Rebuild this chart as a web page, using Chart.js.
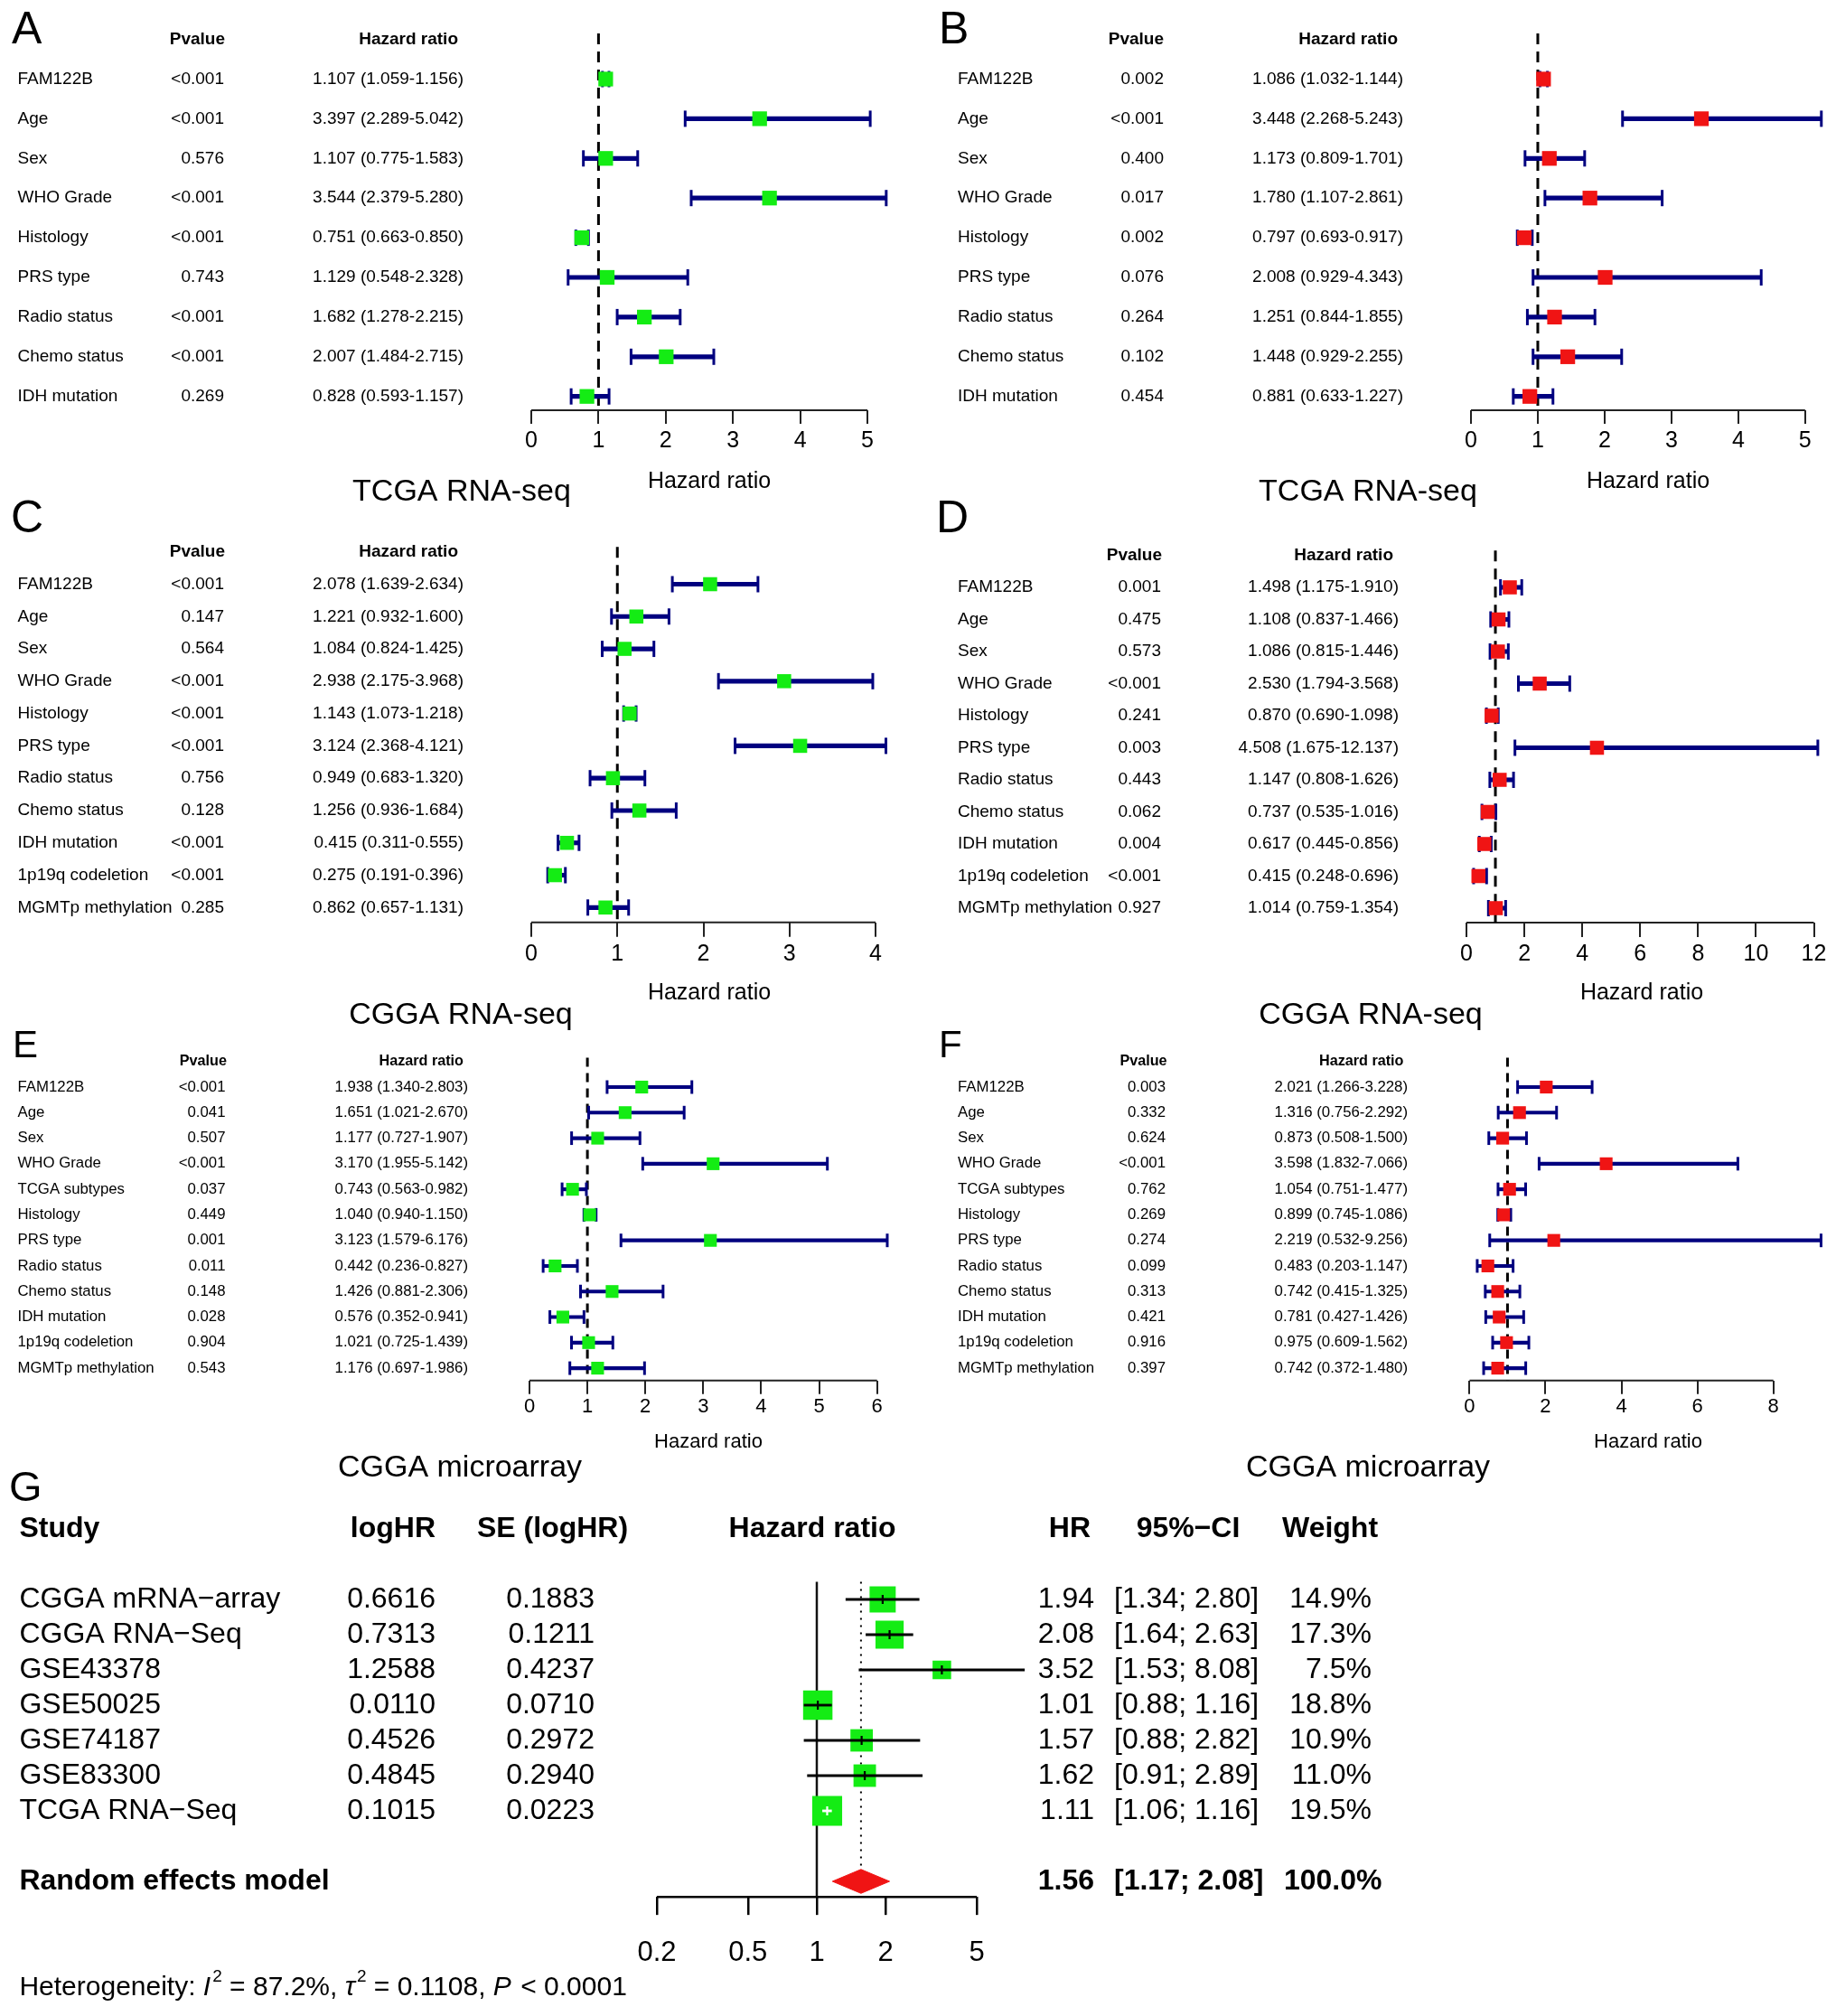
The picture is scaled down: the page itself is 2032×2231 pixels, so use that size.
<!DOCTYPE html>
<html><head><meta charset="utf-8">
<script src="https://cdn.jsdelivr.net/npm/chart.js@4.4.1/dist/chart.umd.min.js"></script>
<style>
html,body{margin:0;padding:0;background:#fff;}
#page{position:relative;width:2032px;height:2231px;background:#fff;overflow:hidden;}
#page canvas{position:absolute;}
</style></head>
<body><div id="page"></div>
<script>
// ---------------- DATA ----------------
const aNames = ['FAM122B','Age','Sex','WHO Grade','Histology','PRS type','Radio status','Chemo status','IDH mutation'];
const aP  = ['<0.001','<0.001','0.576','<0.001','<0.001','0.743','<0.001','<0.001','0.269'];
const aHR = [1.107,3.397,1.107,3.544,0.751,1.129,1.682,2.007,0.828];
const aLo = [1.059,2.289,0.775,2.379,0.663,0.548,1.278,1.484,0.593];
const aHi = [1.156,5.042,1.583,5.280,0.850,2.328,2.215,2.715,1.157];
const aTicks = [0,1,2,3,4,5];

const bNames = ['FAM122B','Age','Sex','WHO Grade','Histology','PRS type','Radio status','Chemo status','IDH mutation'];
const bP  = ['0.002','<0.001','0.400','0.017','0.002','0.076','0.264','0.102','0.454'];
const bHR = [1.086,3.448,1.173,1.780,0.797,2.008,1.251,1.448,0.881];
const bLo = [1.032,2.268,0.809,1.107,0.693,0.929,0.844,0.929,0.633];
const bHi = [1.144,5.243,1.701,2.861,0.917,4.343,1.855,2.255,1.227];
const bTicks = [0,1,2,3,4,5];

const cNames = ['FAM122B','Age','Sex','WHO Grade','Histology','PRS type','Radio status','Chemo status','IDH mutation','1p19q codeletion','MGMTp methylation'];
const cP  = ['<0.001','0.147','0.564','<0.001','<0.001','<0.001','0.756','0.128','<0.001','<0.001','0.285'];
const cHR = [2.078,1.221,1.084,2.938,1.143,3.124,0.949,1.256,0.415,0.275,0.862];
const cLo = [1.639,0.932,0.824,2.175,1.073,2.368,0.683,0.936,0.311,0.191,0.657];
const cHi = [2.634,1.600,1.425,3.968,1.218,4.121,1.320,1.684,0.555,0.396,1.131];
const cTicks = [0,1,2,3,4];

const dNames = ['FAM122B','Age','Sex','WHO Grade','Histology','PRS type','Radio status','Chemo status','IDH mutation','1p19q codeletion','MGMTp methylation'];
const dP  = ['0.001','0.475','0.573','<0.001','0.241','0.003','0.443','0.062','0.004','<0.001','0.927'];
const dHR = [1.498,1.108,1.086,2.530,0.870,4.508,1.147,0.737,0.617,0.415,1.014];
const dLo = [1.175,0.837,0.815,1.794,0.690,1.675,0.808,0.535,0.445,0.248,0.759];
const dHi = [1.910,1.466,1.446,3.568,1.098,12.137,1.626,1.016,0.856,0.696,1.354];
const dTicks = [0,2,4,6,8,10,12];

const eNames = ['FAM122B','Age','Sex','WHO Grade','TCGA subtypes','Histology','PRS type','Radio status','Chemo status','IDH mutation','1p19q codeletion','MGMTp methylation'];
const eP  = ['<0.001','0.041','0.507','<0.001','0.037','0.449','0.001','0.011','0.148','0.028','0.904','0.543'];
const eHR = [1.938,1.651,1.177,3.170,0.743,1.040,3.123,0.442,1.426,0.576,1.021,1.176];
const eLo = [1.340,1.021,0.727,1.955,0.563,0.940,1.579,0.236,0.881,0.352,0.725,0.697];
const eHi = [2.803,2.670,1.907,5.142,0.982,1.150,6.176,0.827,2.306,0.941,1.439,1.986];
const eTicks = [0,1,2,3,4,5,6];

const fNames = ['FAM122B','Age','Sex','WHO Grade','TCGA subtypes','Histology','PRS type','Radio status','Chemo status','IDH mutation','1p19q codeletion','MGMTp methylation'];
const fP  = ['0.003','0.332','0.624','<0.001','0.762','0.269','0.274','0.099','0.313','0.421','0.916','0.397'];
const fHR = [2.021,1.316,0.873,3.598,1.054,0.899,2.219,0.483,0.742,0.781,0.975,0.742];
const fLo = [1.266,0.756,0.508,1.832,0.751,0.745,0.532,0.203,0.415,0.427,0.609,0.372];
const fHi = [3.228,2.292,1.500,7.066,1.477,1.086,9.256,1.147,1.325,1.426,1.562,1.480];
const fTicks = [0,2,4,6,8];

const gStudies = ['CGGA mRNA\u2212array','CGGA RNA\u2212Seq','GSE43378','GSE50025','GSE74187','GSE83300','TCGA RNA\u2212Seq'];
const gLogHR  = ['0.6616','0.7313','1.2588','0.0110','0.4526','0.4845','0.1015'];
const gSE     = ['0.1883','0.1211','0.4237','0.0710','0.2972','0.2940','0.0223'];
const gHR     = [1.94,2.08,3.52,1.01,1.57,1.62,1.11];
const gLo     = [1.34,1.64,1.53,0.88,0.88,0.91,1.06];
const gHi     = [2.80,2.63,8.08,1.16,2.82,2.89,1.16];
const gWeight = [14.9,17.3,7.5,18.8,10.9,11.0,19.5];
const gTicks  = [0.2,0.5,1,2,5];
const reHR = 1.56, reLo = 1.17, reHi = 2.08, reWeight = 100.0;
const hetI2 = '87.2%', hetTau2 = '0.1108', hetP = '< 0.0001';

// ---------------- STYLE ----------------
const FONT = 'Arial, "Liberation Sans", Helvetica, sans-serif';
const NAVY = '#00007f';
const GREEN = '#14ec14';
const RED = '#f01414';
const gCIColor = ['#000','#000','#000','#000','#000','#000','#fff'];
Chart.defaults.font.family = FONT;
Chart.defaults.color = '#000';

function setFont(ctx, size, style) { ctx.font = (style ? style + ' ' : '') + size + 'px ' + FONT; }
const f3 = v => v.toFixed(3);
const f2 = v => v.toFixed(2);

function addCanvas(ox, oy, w, h) {
  const c = document.createElement('canvas');
  c.width = w; c.height = h;
  c.style.left = ox + 'px'; c.style.top = oy + 'px';
  c.style.width = w + 'px'; c.style.height = h + 'px';
  document.getElementById('page').appendChild(c);
  return c;
}

// ---------------- FOREST PANELS A-F ----------------
function forest(P) {
  const c = addCanvas(P.ox, P.oy, P.w, P.h);
  const YMIN = -1.15;
  const top = P.r0 + YMIN * P.dr, bottom = P.r0 + P.ymax * P.dr;
  const t0 = P.ticks[0], tN = P.ticks[P.ticks.length - 1];
  const unit = (P.xN - P.x0) / (tN - t0);
  const right = P.x0 + (P.xmax - t0) * unit;
  const XH = 70;
  const L = x => x - P.ox, T = y => y - P.oy;
  new Chart(c, {
    type: 'scatter',
    data: { datasets: [
      { type: 'line', data: [{x: t0, y: P.ymax}, {x: tN, y: P.ymax}], borderColor: '#222', borderWidth: 2, pointRadius: 0, clip: false, order: 6 },
      { type: 'line', data: [{x: 1, y: YMIN}, {x: 1, y: P.ymax}], borderColor: '#000', borderWidth: 3, borderDash: P.dash, pointRadius: 0, clip: false, order: 5 },
      { type: 'bar', indexAxis: 'y', data: P.lo.map((l, i) => ({y: i, x: [l, P.hi[i]]})), backgroundColor: NAVY, borderWidth: 0, barThickness: P.lw, clip: false, order: 4 },
      { type: 'scatter', data: P.lo.map((l, i) => ({x: l, y: i})).concat(P.hi.map((h, i) => ({x: h, y: i}))),
        pointStyle: 'line', pointRotation: 90, pointRadius: P.cap, pointBorderColor: NAVY, pointBorderWidth: P.capw, clip: false, order: 3 },
      { type: 'scatter', data: P.hr.map((v, i) => ({x: v, y: i})), pointStyle: 'rect', pointRadius: P.mk,
        pointBackgroundColor: P.color, pointBorderColor: P.color, pointBorderWidth: 0, clip: false, order: 2 }
    ]},
    options: {
      responsive: false, animation: false, events: [],
      layout: { padding: { left: P.x0 - P.ox, right: P.ox + P.w - right, top: top - P.oy, bottom: P.oy + P.h - bottom - XH } },
      plugins: { legend: { display: false }, tooltip: { enabled: false } },
      scales: {
        x: { type: 'linear', min: t0, max: P.xmax, offset: false, beginAtZero: false,
          afterBuildTicks: s => { s.ticks = P.ticks.map(v => ({value: v})); },
          afterFit: s => { s.height = XH; },
          grid: { display: true, offset: false, drawOnChartArea: false, drawTicks: true, tickLength: P.tl, color: '#222', lineWidth: 2 },
          border: { display: false },
          ticks: { font: { family: FONT, size: P.tick }, color: '#000', padding: P.tpad, maxRotation: 0, autoSkip: false, callback: v => String(v) } },
        y: { type: 'linear', display: false, offset: false, grid: { offset: false }, min: YMIN, max: P.ymax, reverse: true }
      }
    },
    plugins: [{ id: 'txt' + P.letter, afterDraw(chart) {
      const ctx = chart.ctx, ys = chart.scales.y;
      ctx.save();
      ctx.fillStyle = '#000';
      ctx.textBaseline = 'middle';
      setFont(ctx, P.hs, 'bold');
      ctx.textAlign = 'right';
      const hy = ys.getPixelForValue(-1);
      ctx.fillText('Pvalue', L(P.pHX), hy);
      ctx.fillText('Hazard ratio', L(P.hrHX), hy);
      setFont(ctx, P.fs);
      P.names.forEach((nm, i) => {
        const y = ys.getPixelForValue(i);
        ctx.textAlign = 'left'; ctx.fillText(nm, L(P.nameX), y);
        ctx.textAlign = 'right'; ctx.fillText(P.p[i], L(P.pX), y);
        ctx.fillText(f3(P.hr[i]) + ' (' + f3(P.lo[i]) + '-' + f3(P.hi[i]) + ')', L(P.hrX), y);
      });
      ctx.textBaseline = 'alphabetic';
      ctx.textAlign = 'center';
      setFont(ctx, P.xs); ctx.fillText('Hazard ratio', L(P.xlx), T(P.xly));
      setFont(ctx, 34); ctx.fillText(P.title, L(P.tx), T(P.ty));
      ctx.textAlign = 'left';
      setFont(ctx, P.ls); ctx.fillText(P.letter, L(P.lx), T(P.ly));
      ctx.restore();
    }}]
  });
}

const bigA = { w: 1016, h: 575, r0: 87.5, dr: 43.9, ymax: 8.35, fs: 19, hs: 19, tick: 25, tl: 15, tpad: 4, xs: 25, ls: 50,
  mk: 11.5, cap: 9, capw: 3, lw: 4.5, dash: [12, 8], title: 'TCGA RNA-seq', ty: 554, xly: 540, ly: 48 };
forest(Object.assign({}, bigA, { ox: 0, oy: 0, names: aNames, p: aP, hr: aHR, lo: aLo, hi: aHi, ticks: aTicks, color: GREEN,
  x0: 588, xN: 960, xmax: 5.4, nameX: 19.5, pX: 248, hrX: 513, pHX: 249, hrHX: 507, xlx: 785, tx: 511, letter: 'A', lx: 13 }));
forest(Object.assign({}, bigA, { ox: 1016, oy: 0, names: bNames, p: bP, hr: bHR, lo: bLo, hi: bHi, ticks: bTicks, color: RED,
  x0: 1628, xN: 2004, xmax: 5.3, nameX: 1060, pX: 1288, hrX: 1553, pHX: 1288, hrHX: 1547, xlx: 1824, tx: 1514, letter: 'B', lx: 1039 }));

const bigC = { w: 1016, h: 600, fs: 19, hs: 19, tick: 25, tl: 16, tpad: 4, xs: 25, ls: 50,
  mk: 11, cap: 9, capw: 3, lw: 4.5, dash: [12, 8], title: 'CGGA RNA-seq', ty: 1133, xly: 1106, ly: 589 };
forest(Object.assign({}, bigC, { ox: 0, oy: 545, names: cNames, p: cP, hr: cHR, lo: cLo, hi: cHi, ticks: cTicks, color: GREEN,
  r0: 646.5, dr: 35.78, ymax: 10.46, x0: 588, xN: 969, xmax: 4.2, nameX: 19.5, pX: 248, hrX: 513, pHX: 249, hrHX: 507,
  xlx: 785, tx: 510, letter: 'C', lx: 12 }));
forest(Object.assign({}, bigC, { ox: 1016, oy: 545, names: dNames, p: dP, hr: dHR, lo: dLo, hi: dHi, ticks: dTicks, color: RED,
  r0: 650, dr: 35.5, ymax: 10.45, x0: 1623, xN: 2007.5, xmax: 12.3, nameX: 1060, pX: 1285, hrX: 1548, pHX: 1286, hrHX: 1542,
  xlx: 1817, tx: 1517, letter: 'D', lx: 1036 }));

const bigE = { w: 1016, h: 525, r0: 1203, dr: 28.28, ymax: 11.48, fs: 16.8, hs: 16.2, tick: 22, tl: 15, tpad: 1, xs: 22, ls: 42,
  mk: 10, cap: 7.5, capw: 3, lw: 3.5, dash: [10, 7], title: 'CGGA microarray', ty: 1634, xly: 1602, ly: 1170 };
forest(Object.assign({}, bigE, { ox: 0, oy: 1130, names: eNames, p: eP, hr: eHR, lo: eLo, hi: eHi, ticks: eTicks, color: GREEN,
  x0: 586, xN: 970.7, xmax: 6.3, nameX: 19.5, pX: 249.5, hrX: 518, pHX: 251, hrHX: 513, xlx: 784, tx: 509, letter: 'E', lx: 14 }));
forest(Object.assign({}, bigE, { ox: 1016, oy: 1130, names: fNames, p: fP, hr: fHR, lo: fLo, hi: fHi, ticks: fTicks, color: RED,
  x0: 1626.4, xN: 1968.4, xmax: 9.4, nameX: 1060, pX: 1290, hrX: 1558, pHX: 1291.6, hrHX: 1553.5, xlx: 1824, tx: 1514, letter: 'F', lx: 1039 }));

// ---------------- META-ANALYSIS PANEL G ----------------
(function metaPanel() {
  const ox = 0, oy = 1600, w = 1600, h = 631;
  const c = addCanvas(ox, oy, w, h);
  const x0 = 727, xN = 1081;
  const tA = gTicks[0], tB = gTicks[gTicks.length - 1];
  const dec = (xN - x0) / Math.log10(tB / tA);
  const XMAX = 8.6;
  const right = x0 + Math.log10(XMAX / tA) * dec;
  const r0 = 1770, dr = 39, YMIN = -0.6, YMAX = 8.44;
  const top = r0 + YMIN * dr, bottom = r0 + YMAX * dr;
  const XH = 90, RE = 8, DH = 0.34;
  const L = x => x - ox, T = y => y - oy;
  new Chart(c, {
    type: 'scatter',
    data: { datasets: [
      { type: 'line', data: [{x: tA, y: YMAX}, {x: tB, y: YMAX}], borderColor: '#000', borderWidth: 2.5, pointRadius: 0, clip: false, order: 9 },
      { type: 'line', data: [{x: 1, y: -0.5}, {x: 1, y: YMAX}], borderColor: '#111', borderWidth: 2.5, pointRadius: 0, clip: false, order: 8 },
      { type: 'line', data: [{x: reHR, y: -0.5}, {x: reHR, y: RE - DH}], borderColor: '#000', borderWidth: 2, borderDash: [2, 6], pointRadius: 0, clip: false, order: 8 },
      { type: 'scatter', data: gHR.map((v, i) => ({x: v, y: i})), pointStyle: 'rect',
        pointRadius: ctx => 7.5 * Math.sqrt(gWeight[ctx.dataIndex]) / Math.SQRT2,
        pointBackgroundColor: GREEN, pointBorderColor: GREEN, pointBorderWidth: 0, clip: false, order: 5 },
      { type: 'bar', indexAxis: 'y', data: gLo.map((l, i) => ({y: i, x: [l, gHi[i]]})), backgroundColor: gCIColor,
        borderWidth: 0, barThickness: 2.2, clip: false, order: 4 },
      { type: 'scatter', data: gHR.map((v, i) => ({x: v, y: i})), pointStyle: 'line', pointRotation: 90, pointRadius: 5,
        pointBorderColor: gCIColor, pointBorderWidth: 2.2, clip: false, order: 3 },
      { type: 'line', data: [{x: reLo, y: RE}, {x: reHR, y: RE - DH}, {x: reHi, y: RE}, {x: reHR, y: RE + DH}, {x: reLo, y: RE}],
        borderColor: RED, borderWidth: 1, backgroundColor: RED, fill: 'shape', pointRadius: 0, tension: 0, clip: false, order: 2 }
    ]},
    options: {
      responsive: false, animation: false, events: [],
      layout: { padding: { left: x0 - ox, right: ox + w - right, top: top - oy, bottom: oy + h - bottom - XH } },
      plugins: { legend: { display: false }, tooltip: { enabled: false } },
      scales: {
        x: { type: 'logarithmic', min: tA, max: XMAX, offset: false,
          afterBuildTicks: s => { s.ticks = gTicks.map(v => ({value: v})); },
          afterFit: s => { s.height = XH; },
          grid: { display: true, offset: false, drawOnChartArea: false, drawTicks: true, tickLength: 20, color: '#000', lineWidth: 2.5 },
          border: { display: false },
          ticks: { font: { family: FONT, size: 31 }, color: '#000', padding: 24, maxRotation: 0, autoSkip: false, callback: v => String(v) } },
        y: { type: 'linear', display: false, offset: false, grid: { offset: false }, min: YMIN, max: YMAX, reverse: true }
      }
    },
    plugins: [{ id: 'txtG', afterDraw(chart) {
      const ctx = chart.ctx, ys = chart.scales.y;
      ctx.save();
      ctx.fillStyle = '#000';
      ctx.textBaseline = 'middle';
      const hy = ys.getPixelForValue(-2);
      setFont(ctx, 32, 'bold');
      ctx.textAlign = 'left';  ctx.fillText('Study', L(21.4), hy);
      ctx.textAlign = 'right'; ctx.fillText('logHR', L(482), hy);
      ctx.textAlign = 'left';  ctx.fillText('SE (logHR)', L(528), hy);
      ctx.textAlign = 'center'; ctx.fillText('Hazard ratio', L(899), hy);
      ctx.textAlign = 'right'; ctx.fillText('HR', L(1207), hy);
      ctx.textAlign = 'center'; ctx.fillText('95%\u2212CI', L(1315), hy);
      ctx.textAlign = 'left';  ctx.fillText('Weight', L(1419), hy);
      setFont(ctx, 32);
      gStudies.forEach((s, i) => {
        const y = ys.getPixelForValue(i);
        ctx.textAlign = 'left';  ctx.fillText(s, L(21.4), y);
        ctx.textAlign = 'right'; ctx.fillText(gLogHR[i], L(482), y);
        ctx.fillText(gSE[i], L(658), y);
        ctx.fillText(f2(gHR[i]), L(1211), y);
        ctx.textAlign = 'left';  ctx.fillText('[' + f2(gLo[i]) + '; ' + f2(gHi[i]) + ']', L(1233), y);
        ctx.textAlign = 'right'; ctx.fillText(gWeight[i].toFixed(1) + '%', L(1518), y);
      });
      const ry = ys.getPixelForValue(RE);
      setFont(ctx, 32, 'bold');
      ctx.textAlign = 'left';  ctx.fillText('Random effects model', L(21.4), ry);
      ctx.textAlign = 'right'; ctx.fillText(f2(reHR), L(1211), ry);
      ctx.textAlign = 'left';  ctx.fillText('[' + f2(reLo) + '; ' + f2(reHi) + ']', L(1233), ry);
      ctx.textAlign = 'right'; ctx.fillText(reWeight.toFixed(1) + '%', L(1529.5), ry);
      // heterogeneity line
      ctx.textAlign = 'left'; ctx.textBaseline = 'alphabetic';
      const segs = [['Heterogeneity: ', ''], ['I', 'italic'], ['2', 'sup'], [' = ' + hetI2 + ', ', ''], ['\u03c4', 'italic'], ['2', 'sup'],
                    [' = ' + hetTau2 + ', ', ''], ['P', 'italic'], [' ' + hetP, '']];
      let x = L(21.4); const by = T(2208);
      segs.forEach(([t, st]) => {
        if (st === 'sup') { setFont(ctx, 19); ctx.fillText(t, x, by - 15); }
        else { setFont(ctx, 30, st === 'italic' ? 'italic' : ''); ctx.fillText(t, x, by); }
        x += ctx.measureText(t).width + (st === 'italic' ? 2 : 0);
      });
      setFont(ctx, 47); ctx.fillText('G', L(10), T(1661));
      ctx.restore();
    }}]
  });
})();
</script>
</body></html>
